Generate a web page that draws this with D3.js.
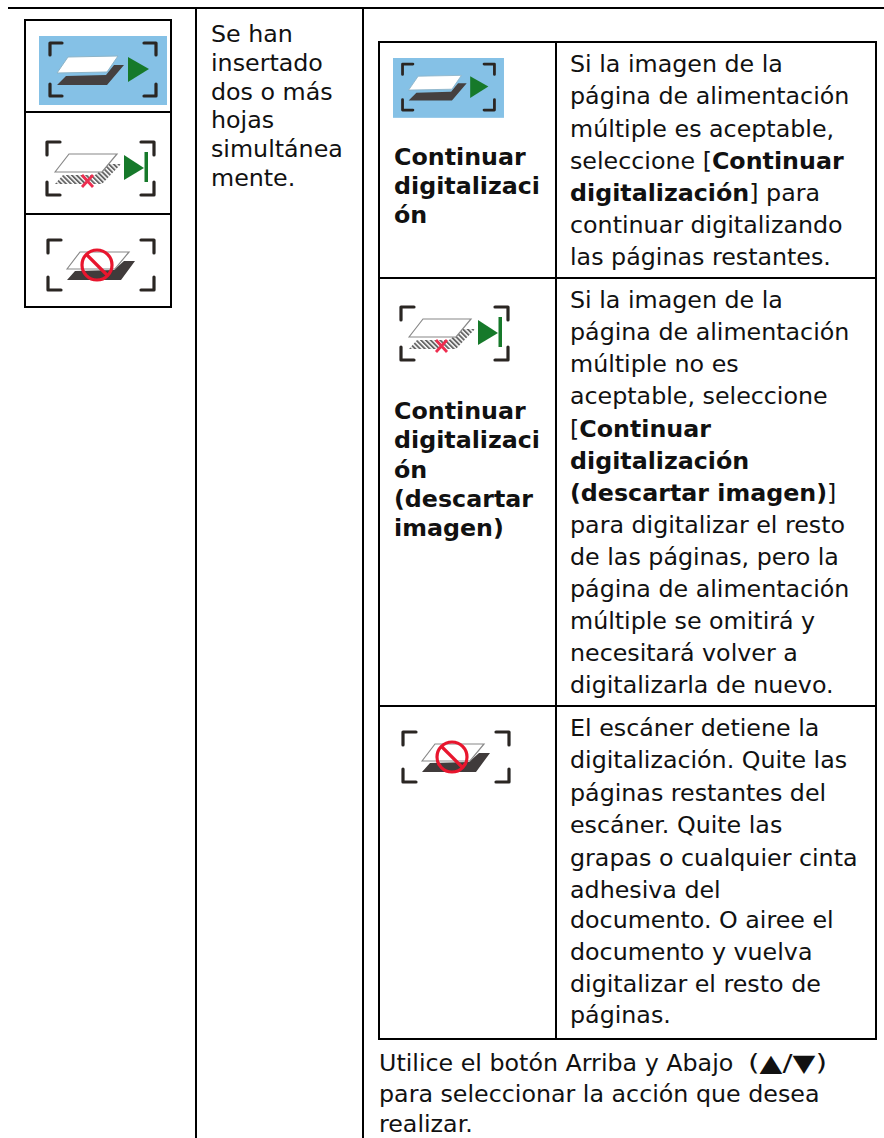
<!DOCTYPE html>
<html>
<head>
<meta charset="utf-8">
<script src="https://cdn.jsdelivr.net/npm/d3@7"></script>
<style>
  html, body { margin: 0; background: #fff; }
  svg { display: block; }
  text { font-family: "DejaVu Sans", Verdana, sans-serif; fill: #111; }
</style>
</head>
<body>
<script>
// cell texts, *...* marks bold runs
const problemLines = ["Se han", "insertado", "dos o más", "hojas", "simultánea", "mente."];
const continueLabel = ["Continuar", "digitalizaci", "ón"];
const discardLabel = ["Continuar", "digitalizaci", "ón", "(descartar", "imagen)"];
const continueLines = ["Si la imagen de la", "página de alimentación", "múltiple es aceptable,", "seleccione [*Continuar*", "*digitalización*] para", "continuar digitalizando", "las páginas restantes."];
const discardLines = ["Si la imagen de la", "página de alimentación", "múltiple no es", "aceptable, seleccione", "[*Continuar*", "*digitalización*", "*(descartar imagen)*]", "para digitalizar el resto", "de las páginas, pero la", "página de alimentación", "múltiple se omitirá y", "necesitará volver a", "digitalizarla de nuevo."];
const stopLinesTop = ["El escáner detiene la", "digitalización. Quite las", "páginas restantes del", "escáner. Quite las", "grapas o cualquier cinta", "adhesiva del"];
const stopLinesBottom = ["documento. O airee el", "documento y vuelva", "digitalizar el resto de", "páginas."];
const footerLines = ["Utilice el botón Arriba y Abajo", "para seleccionar la acción que desea", "realizar."];
const footerKeys = "(▲/▼)";

const width = 884, height = 1138;
const fontSize = 23.75;

const svg = d3.select("body").append("svg")
    .attr("width", width)
    .attr("height", height);

// soft edges, the icons are scaled bitmaps in the original
const defs = svg.append("defs");
defs.append("filter").attr("id", "soft")
    .append("feGaussianBlur").attr("stdDeviation", 0.5);
const hatchFill = defs.append("pattern").attr("id", "hatch")
    .attr("width", 3.4).attr("height", 3.4)
    .attr("patternUnits", "userSpaceOnUse")
    .attr("patternTransform", "rotate(-45)");
hatchFill.append("rect").attr("width", 1.9).attr("height", 3.4).attr("fill", "#666");

// table rules
const rules = [
  [9, 8, 884, 8], [196, 8, 196, 1138], [363, 8, 363, 1138],
  [25, 20, 171, 20], [25, 112, 171, 112], [25, 214, 171, 214], [25, 307, 171, 307],
  [25, 20, 25, 307], [171, 20, 171, 307],
  [379, 42, 876, 42], [379, 278, 876, 278], [379, 706, 876, 706], [379, 1039, 876, 1039],
  [379, 42, 379, 1039], [556, 42, 556, 1039], [876, 42, 876, 1039]
];
svg.append("g").selectAll("line")
    .data(rules)
    .enter()
    .append("line")
    .attr("x1", d => d[0]).attr("y1", d => d[1])
    .attr("x2", d => d[2]).attr("y2", d => d[3])
    .attr("stroke", "#000")
    .attr("stroke-width", 2)
    .attr("stroke-linecap", "square");

// draw a block of text lines, baseline from the line index
function textBlock(lines, x, y0, step, weight) {
  const y = d3.scaleLinear().domain([0, 1]).range([y0, y0 + step]);
  const t = svg.append("g").selectAll("text")
      .data(lines)
      .enter()
      .append("text")
      .attr("x", x)
      .attr("y", (d, i) => y(i))
      .attr("font-size", fontSize)
      .attr("font-weight", weight || "normal");
  t.selectAll("tspan")
      .data(d => d.split("*").map((s, i) => ({ s: s, bold: i % 2 == 1 })))
      .enter()
      .append("tspan")
      .attr("font-weight", d => d.bold ? "bold" : null)
      .text(d => d.s);
}

textBlock(problemLines, 211, 41.7, 28.9);
textBlock(continueLabel, 394, 165, 29, "bold");
textBlock(discardLabel, 394, 419, 29.3, "bold");
textBlock(continueLines, 570, 72.3, 32.1);
textBlock(discardLines, 570, 308.3, 32.05);
textBlock(stopLinesTop, 570, 736, 32.4);
textBlock(stopLinesBottom, 570, 928, 31.8);
textBlock(footerLines, 379, 1071, 30.7);

// the arrow glyphs run wider in the original
svg.append("text")
    .attr("x", 748)
    .attr("y", 1071)
    .attr("font-size", fontSize)
    .attr("textLength", 79)
    .attr("lengthAdjust", "spacingAndGlyphs")
    .text(footerKeys);

// icon helpers
const line = d3.line();
function brackets(g, w, h, arm) {
  const corners = [
    [[0, arm], [0, 0], [arm, 0]],
    [[w - arm, 0], [w, 0], [w, arm]],
    [[0, h - arm], [0, h], [arm, h]],
    [[w - arm, h], [w, h], [w, h - arm]]
  ];
  g.selectAll("path.corner").data(corners).enter().append("path")
      .attr("class", "corner")
      .attr("d", line)
      .attr("fill", "none")
      .attr("stroke", "#2b2523")
      .attr("stroke-width", 3.2)
      .attr("stroke-linejoin", "round")
      .attr("stroke-linecap", "round");
}
function poly(g, pts, fill, stroke, sw) {
  return g.append("path").attr("d", line(pts) + "Z")
      .attr("fill", fill)
      .attr("stroke", stroke || "none")
      .attr("stroke-width", sw || 0);
}

// scan icon on a blue tile, origin at tile corner
function iconContinue(x, y, k) {
  const g = svg.append("g").attr("transform", `translate(${x},${y}) scale(${k})`).attr("filter", "url(#soft)");
  g.append("rect").attr("width", 128).attr("height", 69).attr("fill", "#85c1e6");
  const b = g.append("g").attr("transform", "translate(11,7)");
  brackets(b, 106, 53, 12);
  poly(g, [[18, 49], [68, 49], [85, 29], [75, 29], [67, 39], [27, 40]], "#45403f");
  poly(g, [[18, 37], [29, 21], [79, 20], [68, 36]], "#fff", "#8db4c8", 1);
  poly(g, [[89, 21], [110, 33], [89, 46]], "#18792c");
}

// skip icon, origin at top left bracket
function iconDiscard(x, y) {
  const g = svg.append("g").attr("transform", `translate(${x},${y})`).attr("filter", "url(#soft)");
  brackets(g, 107, 53, 13);
  poly(g, [[8, 42], [55, 42], [74, 22], [62, 22], [48, 33], [16, 33]], "url(#hatch)");
  poly(g, [[8, 30], [22, 12], [70, 12], [55, 30]], "#fff", "#888", 1.2);
  g.append("path").attr("d", "M35,33L46,45M46,33L35,45")
      .attr("stroke", "#ee2d50").attr("stroke-width", 2.8);
  poly(g, [[77, 13], [97, 26], [77, 38]], "#18792c");
  g.append("rect").attr("x", 97.5).attr("y", 10).attr("width", 3.5).attr("height", 30).attr("fill", "#18792c");
}

// stop icon, origin at top left bracket
function iconStop(x, y) {
  const g = svg.append("g").attr("transform", `translate(${x},${y})`).attr("filter", "url(#soft)");
  brackets(g, 106, 50, 13);
  poly(g, [[19, 40], [27, 31], [66, 30], [76, 21], [87, 21], [73, 40]], "#3f3b3a");
  poly(g, [[19, 29], [32, 12], [81, 12], [67, 29]], "#fff", "#888", 1.2);
  g.append("circle").attr("cx", 49).attr("cy", 25).attr("r", 15)
      .attr("fill", "none").attr("stroke", "#e8142d").attr("stroke-width", 3.2);
  g.append("path").attr("d", "M39,15L59,35").attr("stroke", "#e8142d").attr("stroke-width", 3.2);
}

iconContinue(39, 36, 1);
iconDiscard(47, 142);
iconStop(48, 240);

iconContinue(393, 58, 0.867);
iconDiscard(401, 307);
iconStop(403, 732);
</script>
</body>
</html>
